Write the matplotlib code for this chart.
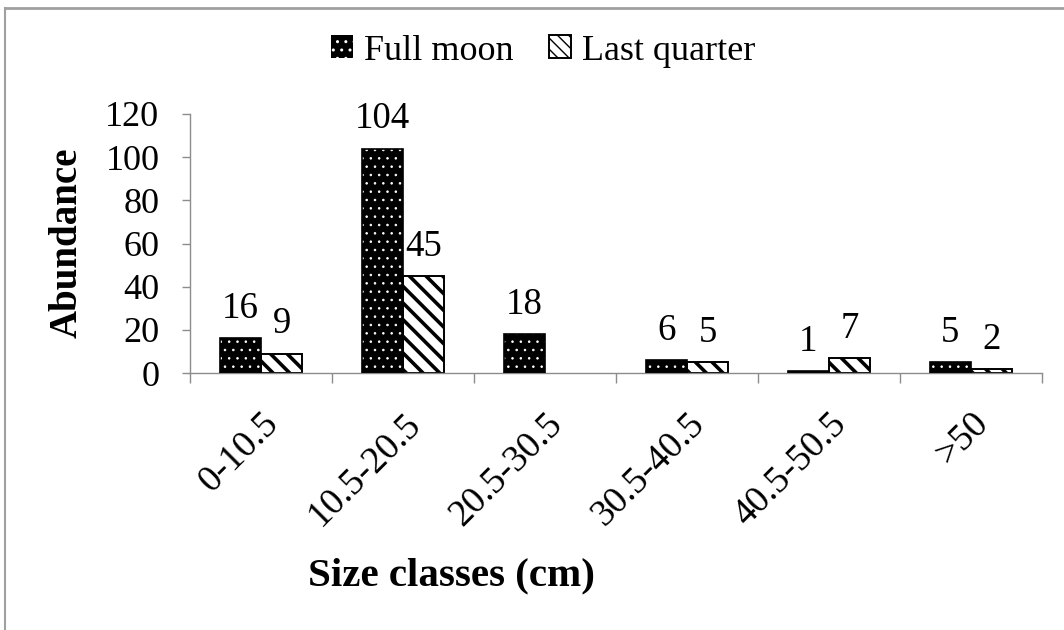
import matplotlib
matplotlib.use("Agg")
import matplotlib.pyplot as plt
import numpy as np
from matplotlib.lines import Line2D
from matplotlib.patches import Patch

categories = ["0-10.5", "10.5-20.5", "20.5-30.5", "30.5-40.5", "40.5-50.5", ">50"]
full_moon = [16, 104, 18, 6, 1, 5]
last_quarter = [9, 45, None, 5, 7, 2]
yticks = [0, 20, 40, 60, 80, 100, 120]
series_names = ["Full moon", "Last quarter"]

plt.rcParams['font.family'] = ['Liberation Serif', 'DejaVu Serif']

W, H = 1064, 630
fig = plt.figure(figsize=(W / 100, H / 100), dpi=100)
ax = fig.add_axes([190 / W, (H - 373) / H, (1042 - 190) / W, (373 - 114) / H])

x = np.arange(len(categories))
bw = 0.29
grey = '#8c8c8c'

fm = np.array(full_moon, dtype=float)
lq_idx = np.array([i for i, v in enumerate(last_quarter) if v is not None])
lq_vals = np.array([last_quarter[i] for i in lq_idx], dtype=float)

with plt.rc_context({'hatch.linewidth': 0.6}):
    ax.bar(x - bw / 2, fm, bw, color='black', edgecolor='white', hatch='..', linewidth=0, zorder=2)
    h_fm = Patch(facecolor='black', edgecolor='white', hatch='..', linewidth=0)
ax.bar(x - bw / 2, fm, bw, fill=False, edgecolor='black', linewidth=1.2, zorder=3)

with plt.rc_context({'hatch.linewidth': 2.6}):
    ax.bar(x[lq_idx] + bw / 2, lq_vals, bw, color='white', edgecolor='black', hatch='\\\\', linewidth=1.4, zorder=2)
    h_lq = Patch(facecolor='white', edgecolor='black', hatch='\\\\\\', linewidth=1.4)

for i, v in enumerate(full_moon):
    ax.annotate(str(v), (x[i] - bw / 2, v), xytext=(0, 14.5), textcoords='offset points',
                ha='center', va='baseline', fontsize=26.5)
for i, v in enumerate(last_quarter):
    if v is not None:
        ax.annotate(str(v), (x[i] + bw / 2, v), xytext=(0, 14.5), textcoords='offset points',
                    ha='center', va='baseline', fontsize=26.5)

ax.set_xlim(-0.5, len(categories) - 0.5)
ax.set_ylim(0, 120)
ax.set_yticks(yticks)
ax.set_yticklabels([str(t) for t in yticks], fontsize=26)
ax.set_xticks(x)
ax.set_xticklabels(categories, rotation=45, ha='right', rotation_mode='anchor', fontsize=27)
ax.tick_params(axis='x', length=0, pad=24)
ax.set_xticks(np.arange(-0.5, len(categories)), minor=True)
ax.tick_params(axis='x', which='minor', length=7, color=grey, width=1)
ax.tick_params(axis='y', length=6, color=grey, width=1, pad=16)
for s in ['top', 'right']:
    ax.spines[s].set_visible(False)
for s in ['left', 'bottom']:
    ax.spines[s].set_color(grey)
    ax.spines[s].set_linewidth(1)

fig.text(77 / W, 1 - 243 / H, 'Abundance', rotation=90, rotation_mode='anchor',
         ha='center', va='baseline', fontsize=28, fontweight='bold')
fig.text(451 / W, 1 - 585 / H, 'Size classes (cm)', ha='center', va='baseline',
         fontsize=29.5, fontweight='bold')

fig.legend([h_fm, h_lq], series_names, loc='center', bbox_to_anchor=(543 / W, 1 - 51 / H),
           ncol=2, frameon=False, fontsize=26, handlelength=0.6, handleheight=0.6,
           handletextpad=0.3, columnspacing=1.0, borderaxespad=0, borderpad=0)

# outer border
fig.add_artist(Line2D([5 / W, 1], [1 - 8 / H, 1 - 8 / H], color='#a0a0a0', lw=2, transform=fig.transFigure))
fig.add_artist(Line2D([5 / W, 5 / W], [0, 1 - 8 / H], color='#a0a0a0', lw=1.5, transform=fig.transFigure))

fig.savefig('out.png', dpi=100)
